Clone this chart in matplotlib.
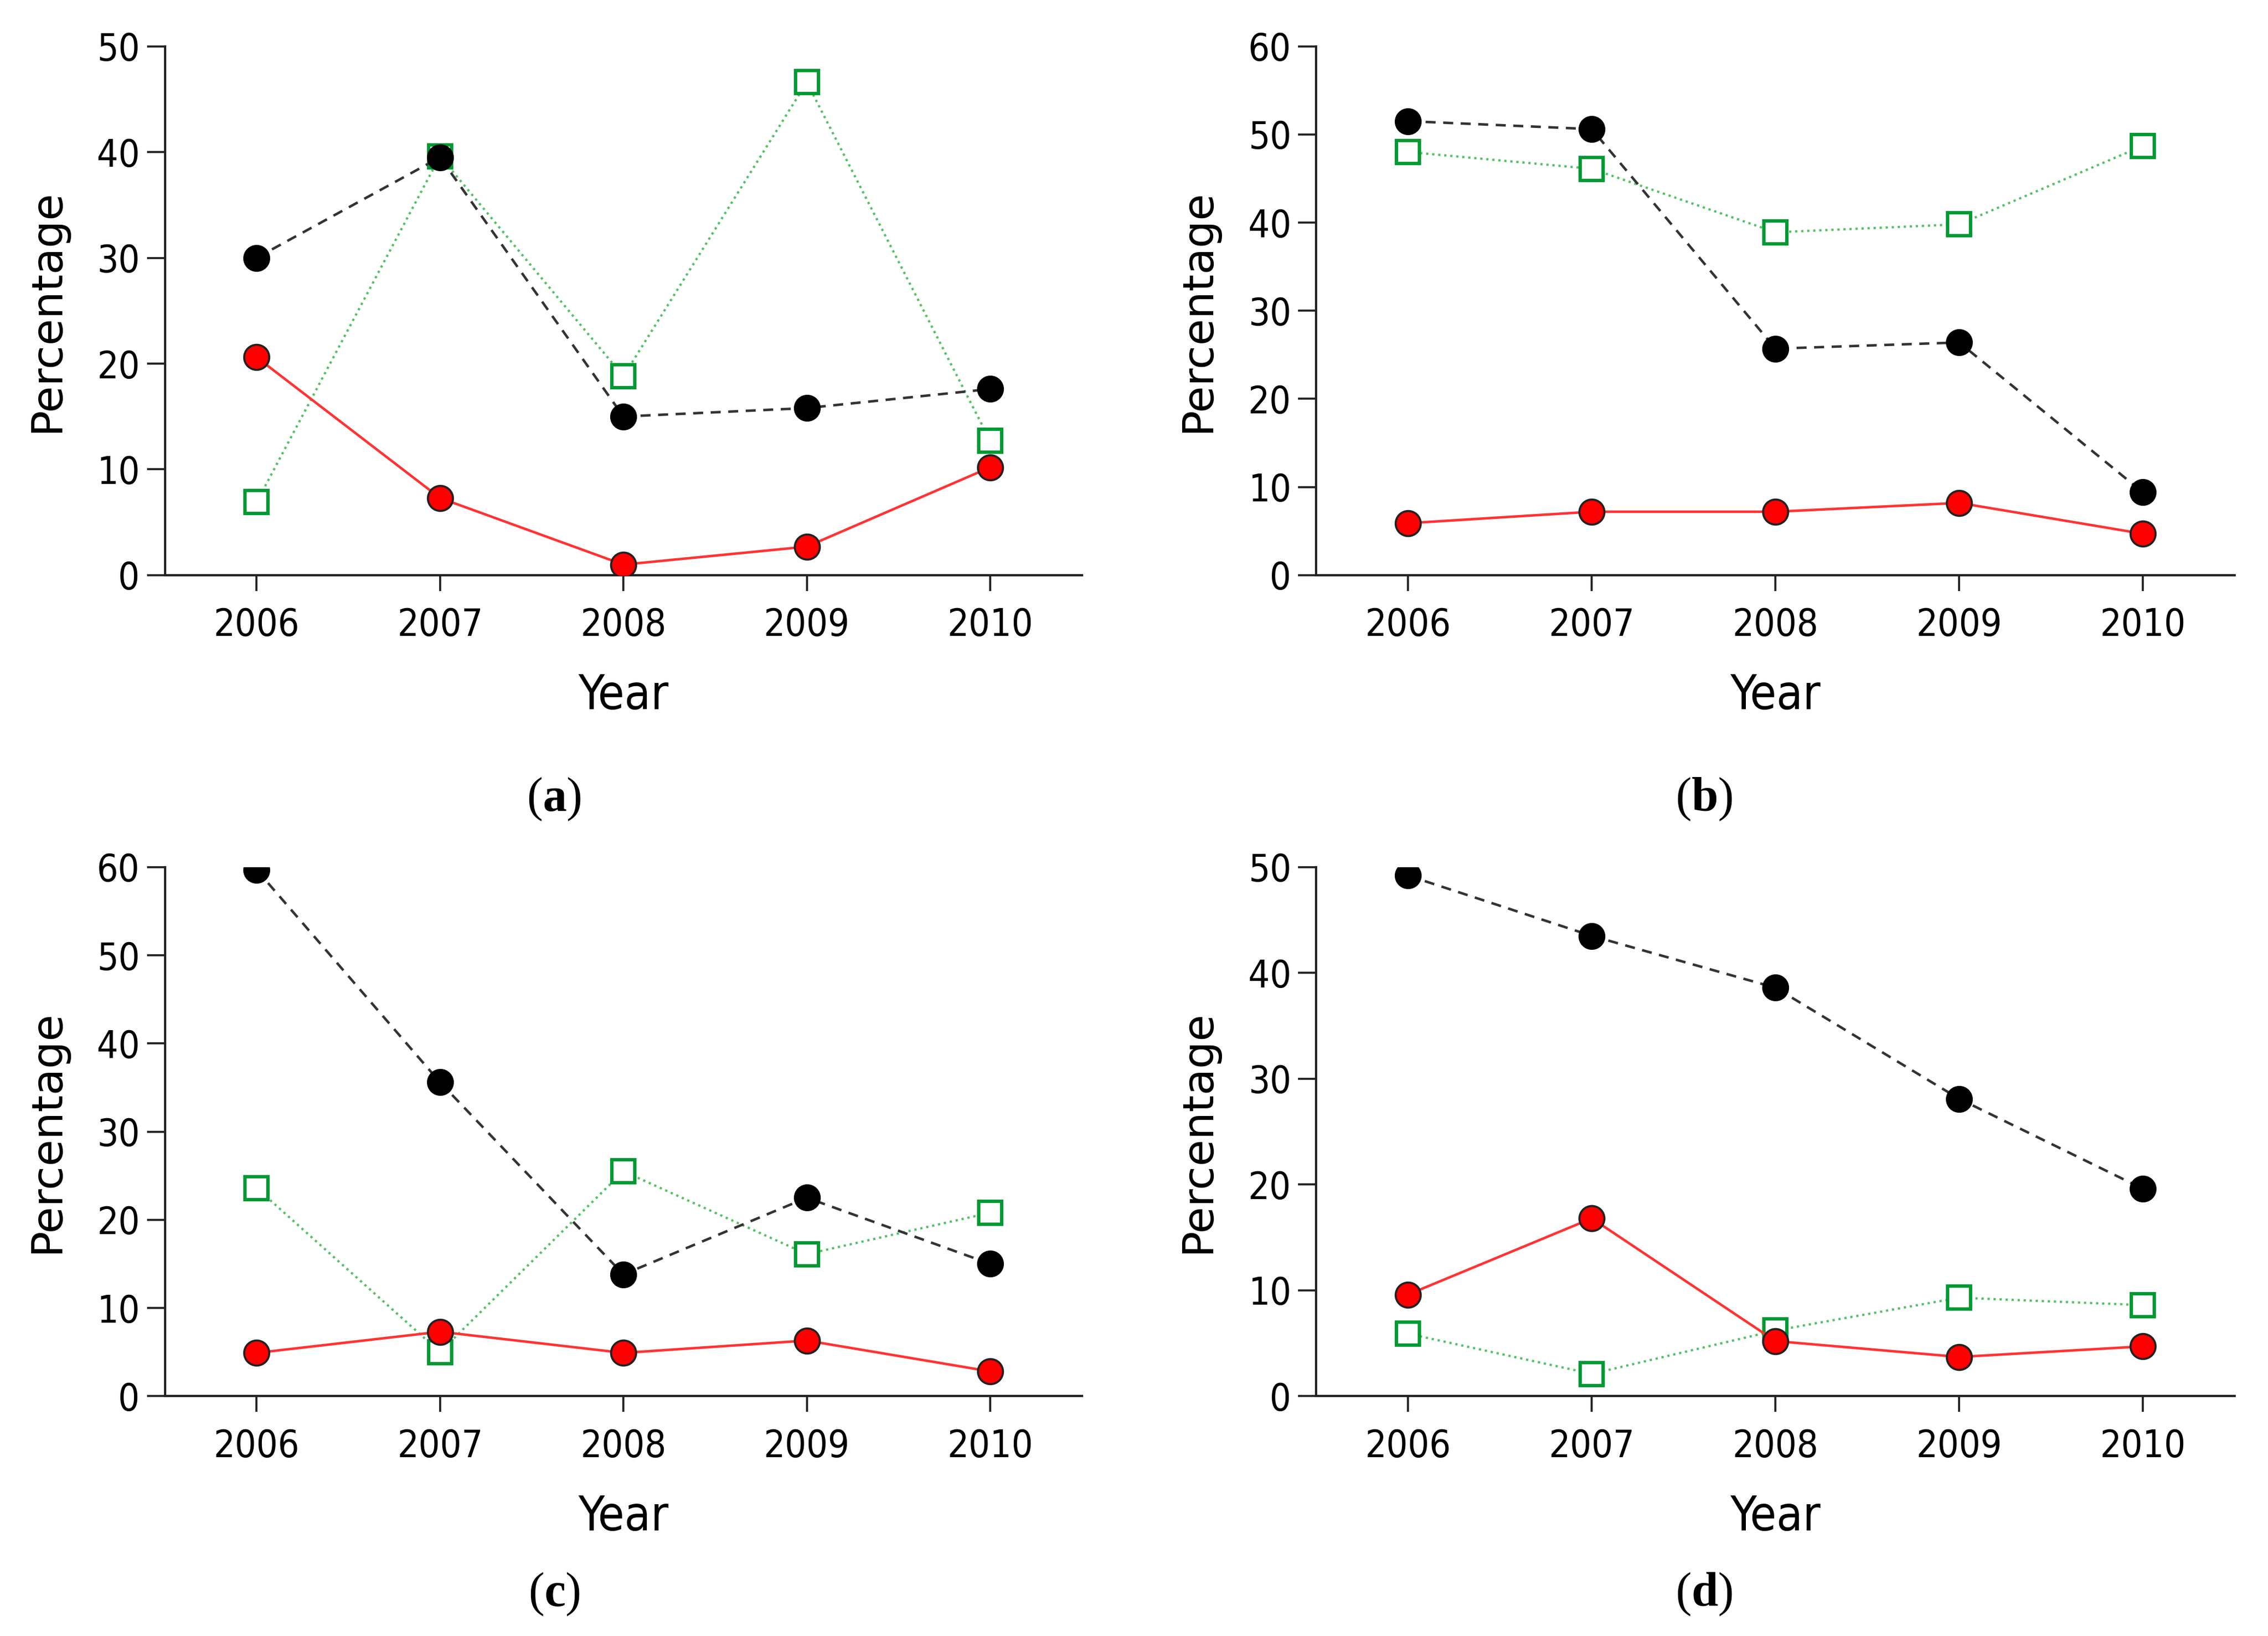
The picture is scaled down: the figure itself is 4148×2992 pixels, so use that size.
import matplotlib
matplotlib.use("Agg")
import matplotlib.pyplot as plt

years = [2006, 2007, 2008, 2009, 2010]

# Panel (a)
a_black = [30.0, 39.5, 15.0, 15.8, 17.6]
a_red = [20.6, 7.3, 1.0, 2.7, 10.2]
a_green = [6.9, 39.6, 18.8, 46.6, 12.7]
# Panel (b)
b_black = [51.5, 50.6, 25.7, 26.4, 9.4]
b_red = [5.9, 7.2, 7.2, 8.2, 4.7]
b_green = [48.0, 46.1, 38.9, 39.8, 48.7]
# Panel (c)
c_black = [59.7, 35.6, 13.8, 22.5, 15.0]
c_red = [4.9, 7.3, 4.9, 6.3, 2.8]
c_green = [23.6, 5.0, 25.5, 16.1, 20.8]
# Panel (d)
d_black = [49.2, 43.5, 38.6, 28.1, 19.6]
d_red = [9.6, 16.8, 5.2, 3.7, 4.7]
d_green = [5.9, 2.1, 6.2, 9.3, 8.6]

panels = [
    ("a", a_black, a_red, a_green, 50),
    ("b", b_black, b_red, b_green, 60),
    ("c", c_black, c_red, c_green, 60),
    ("d", d_black, d_red, d_green, 50),
]

plt.rcParams['mathtext.fontset'] = 'custom'
plt.rcParams['mathtext.rm'] = 'Liberation Serif'
plt.rcParams['mathtext.bf'] = 'Liberation Serif:bold'

W, H = 1568.0, 1132.0
fig = plt.figure(figsize=(4148 / 300, 2992 / 300), dpi=300)

boxes = [
    (114, 748, 32, 398),
    (910, 1545, 32, 398),
    (114, 748, 600, 966),
    (910, 1545, 600, 966),
]
captions_xy = [(383, 553), (1178, 553), (383, 1103), (1178, 1103)]

tick_font = dict(family='DejaVu Sans', stretch='condensed', size=16.5)

for (name, blk, red, grn, ymax), (x0, x1, y0, y1), (cx, cy) in zip(panels, boxes, captions_xy):
    ax = fig.add_axes([x0 / W, 1 - y1 / H, (x1 - x0) / W, (y1 - y0) / H])
    ax.plot(years, grn, linestyle=':', color='#55c065', lw=1.0,
            marker='s', ms=10, mfc='white', mec='#009933', mew=1.5, zorder=3)
    ax.plot(years, blk, linestyle='--', dashes=(4, 3), color='#333333', lw=1.1,
            marker='o', ms=11, mfc='black', mec='black', mew=0.8, zorder=4)
    ax.plot(years, red, linestyle='-', color='#ff3333', lw=1.1,
            marker='o', ms=11, mfc='#ff0000', mec='#222222', mew=0.9, zorder=5)
    ax.set_xlim(2005.5, 2010.5)
    ax.set_ylim(0, ymax)
    ax.set_xticks(years)
    ax.set_yticks(range(0, ymax + 1, 10))
    ax.set_xticklabels([str(y) for y in years], fontdict=tick_font)
    ax.set_yticklabels([str(v) for v in range(0, ymax + 1, 10)], fontdict=tick_font)
    for s in ['top', 'right']:
        ax.spines[s].set_visible(False)
    for s in ['left', 'bottom']:
        ax.spines[s].set_linewidth(1.0)
        ax.spines[s].set_color('#222222')
    ax.tick_params(axis='x', direction='out', length=7, width=0.9, color='#222222', pad=7)
    ax.tick_params(axis='y', direction='out', length=8, width=0.9, color='#222222', pad=3)
    ax.set_xlabel('Year', family='DejaVu Sans', stretch='condensed', size=21, labelpad=13)
    ax.set_ylabel('Percentage', family='DejaVu Sans', size=19, labelpad=13)
    ax.patch.set_visible(False)
    fig.text(cx / W, 1 - cy / H, r'$(\mathbf{%s})$' % name, ha='center', va='center', fontsize=21)

fig.savefig('out.png', dpi=300)
